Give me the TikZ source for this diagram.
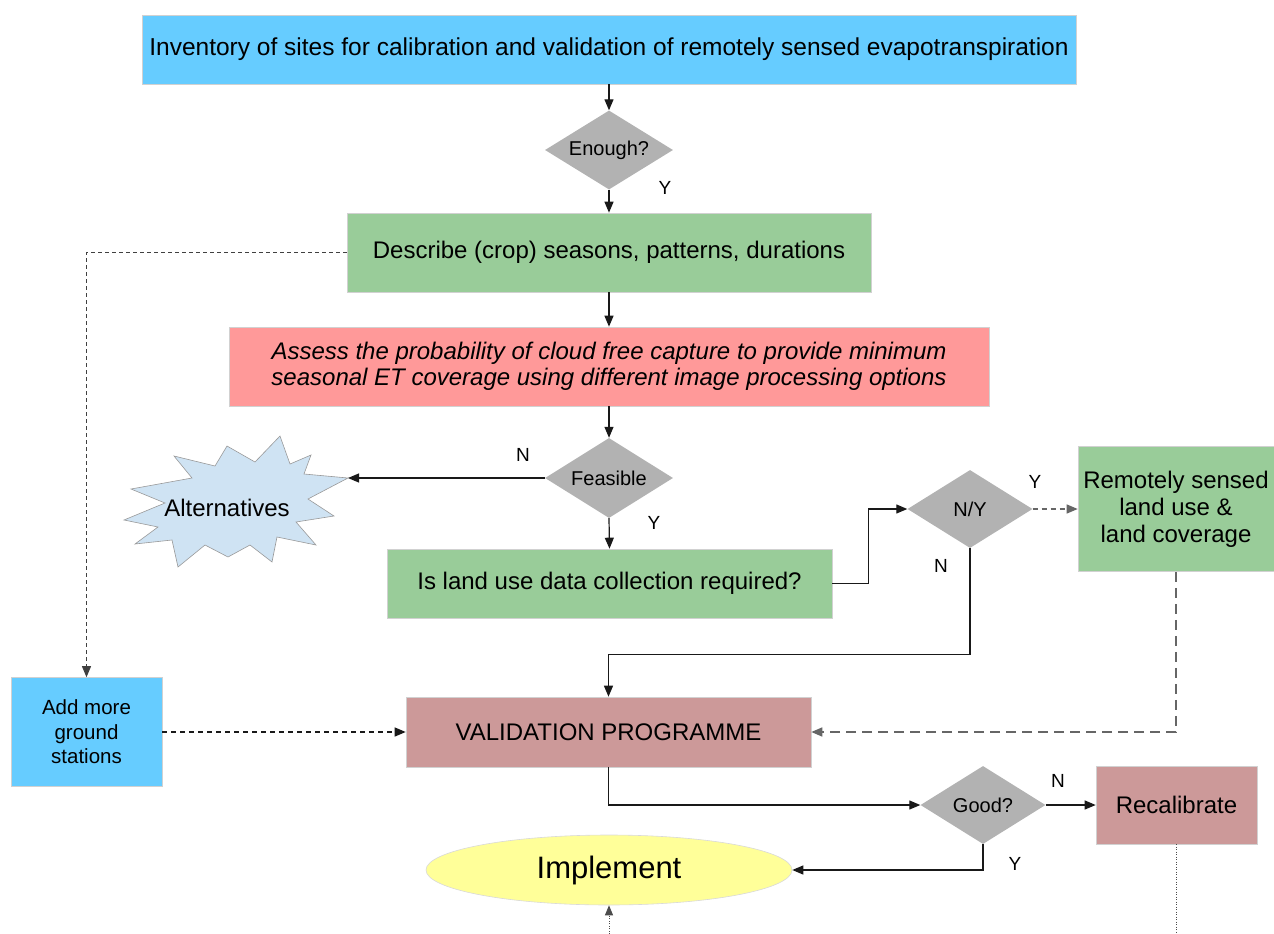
\documentclass[tikz,border=0pt]{standalone}
\usepackage{fontspec}
\setmainfont{Liberation Sans}
\usetikzlibrary{shapes.geometric,arrows.meta}

\definecolor{skyfill}{RGB}{102,204,255}
\definecolor{greenfill}{RGB}{153,204,153}
\definecolor{salmonfill}{RGB}{255,153,153}
\definecolor{rosefill}{RGB}{204,153,153}
\definecolor{diagray}{RGB}{178,178,178}
\definecolor{burstfill}{RGB}{207,227,243}
\definecolor{ovalfill}{RGB}{255,255,153}

\tikzset{
  box/.style={rectangle, draw=black!18, line width=0.6pt, inner sep=0pt,
    align=center, font=\fontsize{24}{27}\selectfont},
  dec/.style={diamond, fill=diagray, draw=none, inner sep=0pt, shape aspect=1.6,
    font=\fontsize{20}{22}\selectfont},
  lbl/.style={font=\fontsize{19}{21}\selectfont, inner sep=0pt},
  arr/.style={-{Triangle[length=11pt,width=9pt]}, line width=1.2pt, draw=black!90},
  dasharr/.style={arr, dash pattern=on 5pt off 4pt},
  graydash/.style={arr, draw=black!60, line width=1.6pt, dash pattern=on 10pt off 6pt},
  fineline/.style={line width=0.8pt, draw=black!70, dash pattern=on 1pt off 1.5pt},
}

\begin{document}
\begin{tikzpicture}[x=1pt,y=-1pt]
\useasboundingbox (0,0) rectangle (1274,934);

% main column
\node[box, fill=skyfill, minimum width=934, minimum height=69,
      font=\fontsize{24.5}{27}\selectfont] (inv) at (609,49.5)
  {Inventory of sites for calibration and validation of remotely sensed evapotranspiration};
\node[dec, minimum width=128, minimum height=79] (enough) at (609,150) {Enough?};
\node[box, fill=greenfill, minimum width=524, minimum height=79] (desc) at (609,252.5)
  {Describe (crop) seasons, patterns, durations};
\node[box, fill=salmonfill, minimum width=760, minimum height=79,
      font=\fontsize{24}{26}\itshape] (assess) at (609,366.5)
  {Assess the probability of cloud free capture to provide minimum\\
   seasonal ET coverage using different image processing options};
\node[dec, minimum width=128, minimum height=80] (feas) at (609,478) {Feasible};
\node[box, fill=greenfill, minimum width=445, minimum height=69] (land) at (609.5,583.5)
  {Is land use data collection required?};
\node[dec, minimum width=125, minimum height=78] (ny) at (970,509) {N/Y};
\node[box, fill=greenfill, minimum width=196, minimum height=125] (remote) at (1176,509)
  {Remotely sensed\\ land use \&\\ land coverage};
\node[box, fill=skyfill, minimum width=151, minimum height=109,
      font=\fontsize{20.5}{24.5}\selectfont] (more) at (86.5,732)
  {Add more\\ ground\\ stations};
\node[box, fill=rosefill, minimum width=405, minimum height=70] (valid) at (608.5,732)
  {VALIDATION PROGRAMME};
\node[dec, minimum width=125, minimum height=78] (good) at (983,805) {Good?};
\node[box, fill=rosefill, minimum width=161, minimum height=78] (recal) at (1176.5,805)
  {Recalibrate};
\node[ellipse, fill=ovalfill, draw=black!15, line width=0.6pt, inner sep=0pt,
      minimum width=366, minimum height=70, font=\fontsize{31}{34}\selectfont]
  (impl) at (609,870) {Implement};

% alternatives starburst
\filldraw[fill=burstfill, draw=black!40, line width=0.6pt]
  (348,478) -- (308,499) -- (334,516) -- (296,522) -- (316,545) -- (277,537)
  -- (272,562) -- (250,545) -- (228,557) -- (205,545) -- (178,567) -- (172,540)
  -- (135,544) -- (158,527) -- (124,520) -- (165,503) -- (131,489) -- (192,478)
  -- (174,456) -- (215,466) -- (227,446) -- (255,462) -- (280,436) -- (290,464)
  -- (311,455) -- (304,474) -- cycle;
\node[font=\fontsize{24}{27}\selectfont, inner sep=0pt] (alt) at (227,508) {Alternatives};
\coordinate (alttip) at (348,478);

% free ends at the lower edge
\coordinate (recalend) at (1176.5,934);
\coordinate (implfrom) at (609,934);

% connectors
\draw[arr] (inv.south) -- (enough.north);
\draw[arr] (enough.south) -- (desc.north);
\draw[arr] (desc.south) -- (assess.north);
\draw[arr] (assess.south) -- (feas.north);
\draw[arr] (feas.west) -- (alttip);
\draw[arr] (feas.south) -- (land.north);
\draw[arr] (land.east) -- ++(36,0) |- (ny.west);
\draw[arr, draw=black!60, dash pattern=on 5pt off 4pt] (ny.east) -- (remote.west);
\draw[arr] (ny.south) -- ++(0,106) -| (valid.north);
\draw[arr, line width=0.9pt, draw=black!75, dash pattern=on 4pt off 3pt]
  (desc.west) -| (more.north);
\draw[dasharr] (more.east) -- (valid.west);
\draw[graydash] (remote.south) |- (valid.east);
\draw[arr] (valid.south) |- (good.west);
\draw[arr] (good.east) -- (recal.west);
\draw[arr] (good.south) |- (impl.east);
\draw[fineline] (recal.south) -- (recalend);
\draw[fineline, -{Triangle[length=10pt,width=8pt]}] (implfrom) -- (impl.south);

% branch labels
\node[lbl] (l1) at (665,188) {Y};
\node[lbl] (l2) at (523,455) {N};
\node[lbl] (l3) at (654,523) {Y};
\node[lbl] (l4) at (1035,482) {Y};
\node[lbl] (l5) at (941,566) {N};
\node[lbl] (l6) at (1058,781) {N};
\node[lbl] (l7) at (1015,864) {Y};
\end{tikzpicture}
\end{document}
